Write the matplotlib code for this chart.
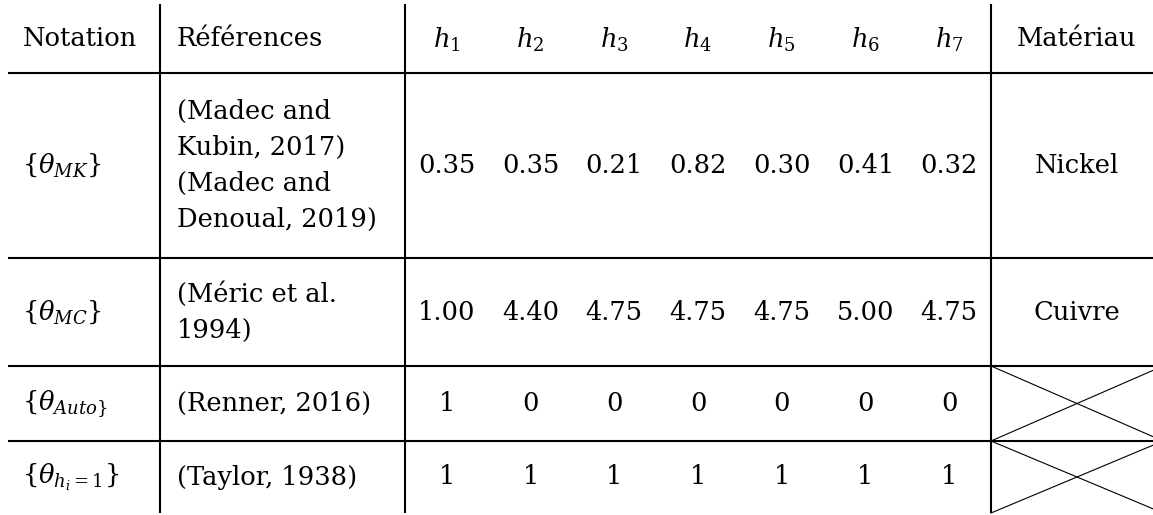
import matplotlib
matplotlib.use("Agg")
import matplotlib.pyplot as plt

# ---- data ----
notations = [r"$\{\theta_{MK}\}$", r"$\{\theta_{MC}\}$", r"$\{\theta_{Auto\}}$", r"$\{\theta_{h_i=1}\}$"]
references = ["(Madec and\nKubin, 2017)\n(Madec and\nDenoual, 2019)",
              "(Méric et al.\n1994)",
              "(Renner, 2016)",
              "(Taylor, 1938)"]
h_labels = [r"$h_1$", r"$h_2$", r"$h_3$", r"$h_4$", r"$h_5$", r"$h_6$", r"$h_7$"]
theta_MK = [0.35, 0.35, 0.21, 0.82, 0.30, 0.41, 0.32]
theta_MC = [1.00, 4.40, 4.75, 4.75, 4.75, 5.00, 4.75]
theta_Auto = [1, 0, 0, 0, 0, 0, 0]
theta_h1 = [1, 1, 1, 1, 1, 1, 1]
row_values = [theta_MK, theta_MC, theta_Auto, theta_h1]
row_decimals = [2, 2, 0, 0]
materials = ["Nickel", "Cuivre", None, None]
headers = ["Notation", "Références", "Matériau"]

# ---- layout (pixels) ----
W, H = 1153, 515
x_edges = [8, 160, 405] + [405 + (991 - 405) * (i + 1) / 7 for i in range(7)] + [1163]
y_edges = [4, 73, 258, 366, 441, 513]
FS = 18.5
LW = 1.5

plt.rcParams['mathtext.fontset'] = 'dejavuserif'
fig = plt.figure(figsize=(W / 100, H / 100), dpi=100)
ax = fig.add_axes([0, 0, 1, 1])
ax.set_xlim(0, W)
ax.set_ylim(H, 0)
ax.axis('off')

font = dict(family='DejaVu Serif', fontsize=FS, color='black')

# grid lines
for x in [x_edges[1], x_edges[2], x_edges[9]]:
    ax.plot([x, x], [y_edges[0], y_edges[-1]], color='black', lw=LW, solid_capstyle='butt')
for y in y_edges[1:5]:
    ax.plot([x_edges[0], W + 5], [y, y], color='black', lw=LW, solid_capstyle='butt')

# header
yc = (y_edges[0] + y_edges[1]) / 2
ax.text(x_edges[0] + 15, yc, headers[0], ha='left', va='center', **font)
ax.text(x_edges[1] + 17, yc, headers[1], ha='left', va='center', **font)
for i, lab in enumerate(h_labels):
    xc = (x_edges[2 + i] + x_edges[3 + i]) / 2
    ax.text(xc, yc + 1, lab, ha='center', va='center', **font)
ax.text((x_edges[9] + x_edges[10]) / 2, yc, headers[2], ha='center', va='center', **font)

# body
for r in range(4):
    y0, y1 = y_edges[r + 1], y_edges[r + 2]
    yc = (y0 + y1) / 2
    ax.text(x_edges[0] + 14, yc, notations[r], ha='left', va='center', **font)
    ax.text(x_edges[1] + 17, yc, references[r], ha='left', va='center',
            linespacing=1.55, **font)
    for i, v in enumerate(row_values[r]):
        xc = (x_edges[2 + i] + x_edges[3 + i]) / 2
        ax.text(xc, yc, f"{v:.{row_decimals[r]}f}", ha='center', va='center', **font)
    if materials[r] is not None:
        ax.text((x_edges[9] + x_edges[10]) / 2, yc, materials[r], ha='center', va='center', **font)
    else:
        ax.plot([x_edges[9], x_edges[10]], [y0, y1], color='black', lw=0.8)
        ax.plot([x_edges[9], x_edges[10]], [y1, y0], color='black', lw=0.8)

fig.savefig('out.png', dpi=100, facecolor='white')
